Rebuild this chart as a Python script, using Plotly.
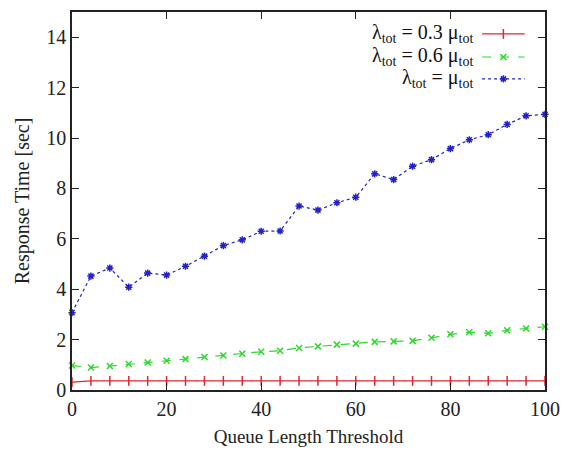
import plotly.graph_objects as go

threshold = [0, 4, 8, 12, 16, 20, 24, 28, 32, 36, 40, 44, 48, 52, 56, 60, 64, 68, 72, 76, 80, 84, 88, 92, 96, 100]
rt_03 = [0.31, 0.36, 0.36, 0.36, 0.36, 0.36, 0.36, 0.36, 0.36, 0.36, 0.36, 0.36, 0.36, 0.36, 0.36, 0.36, 0.36, 0.36, 0.36, 0.36, 0.36, 0.36, 0.36, 0.36, 0.36, 0.36]
rt_06 = [0.97, 0.89, 0.95, 1.03, 1.09, 1.16, 1.23, 1.31, 1.37, 1.44, 1.52, 1.56, 1.67, 1.73, 1.80, 1.84, 1.91, 1.93, 1.95, 2.07, 2.21, 2.29, 2.25, 2.37, 2.44, 2.51]
rt_10 = [3.07, 4.52, 4.84, 4.08, 4.64, 4.56, 4.91, 5.31, 5.73, 5.96, 6.30, 6.31, 7.30, 7.14, 7.43, 7.65, 8.58, 8.35, 8.88, 9.14, 9.58, 9.93, 10.13, 10.54, 10.88, 10.94]

x_ticks = [0, 20, 40, 60, 80, 100]
y_ticks = [0, 2, 4, 6, 8, 10, 12, 14]

labels = ["λ<sub>tot</sub> = 0.3 μ<sub>tot</sub>",
          "λ<sub>tot</sub> = 0.6 μ<sub>tot</sub>",
          "λ<sub>tot</sub> = μ<sub>tot</sub>"]

RED, GREEN, BLUE = "#e3262e", "#2fd82f", "#2222cc"
FONT = "Liberation Serif"

styles = [
    dict(color=RED, dash="solid", symbol="line-ns", size=7),
    dict(color=GREEN, dash="dash", symbol="x-thin", size=6),
    dict(color=BLUE, dash="dot", symbol="asterisk", size=6),
]
series = [rt_03, rt_06, rt_10]

fig = go.Figure()
for ys, st in zip(series, styles):
    fig.add_trace(go.Scatter(
        x=threshold, y=ys, mode="lines+markers",
        line=dict(color=st["color"], dash=st["dash"], width=1.2),
        marker=dict(symbol=st["symbol"], size=st["size"], color=st["color"],
                    line=dict(color=st["color"], width=1.5)),
        cliponaxis=False, showlegend=False,
    ))

# gnuplot-style key (text on left, sample on right)
key_y = [0.942, 0.881, 0.823]
for lab, st, ky in zip(labels, styles, key_y):
    fig.add_annotation(xref="paper", yref="paper", x=0.853, y=ky, text=lab,
                       showarrow=False, xanchor="right", yanchor="middle",
                       font=dict(family=FONT, size=20, color="#111"))
    fig.add_shape(type="line", xref="paper", yref="paper", x0=0.867, x1=0.957,
                  y0=ky, y1=ky, line=dict(color=st["color"], dash=st["dash"], width=1.2))
    fig.add_trace(go.Scatter(
        x=[0.912], y=[ky], xaxis="x2", yaxis="y2", mode="markers",
        marker=dict(symbol=st["symbol"], size=st["size"], color=st["color"],
                    line=dict(color=st["color"], width=1.5)),
        showlegend=False, hoverinfo="skip", cliponaxis=False,
    ))

axis_common = dict(showline=True, linecolor="#222", linewidth=1.5, mirror="ticks",
                   ticks="inside", ticklen=7, tickcolor="#222", tickwidth=1.2,
                   showgrid=False, zeroline=False, automargin=False,
                   tickfont=dict(family=FONT, size=20, color="#222"))

fig.update_layout(
    width=570, height=450,
    margin=dict(l=72, r=25, t=12, b=60),
    paper_bgcolor="white", plot_bgcolor="white",
    font=dict(family=FONT, color="#222"),
    xaxis=dict(range=[0, 100], tickvals=x_ticks,
               title=dict(text="Queue Length Threshold", font=dict(family=FONT, size=19), standoff=11),
               **axis_common),
    yaxis=dict(range=[0, 15], tickvals=y_ticks,
               title=dict(text="Response Time [sec]", font=dict(family=FONT, size=20), standoff=11),
               **axis_common),
    xaxis2=dict(overlaying="x", range=[0, 1], visible=False, anchor="y2"),
    yaxis2=dict(overlaying="y", range=[0, 1], visible=False, anchor="x2"),
)

fig.write_html("out.html", config={"displayModeBar": False},
               post_script="document.body.style.margin='0';")
